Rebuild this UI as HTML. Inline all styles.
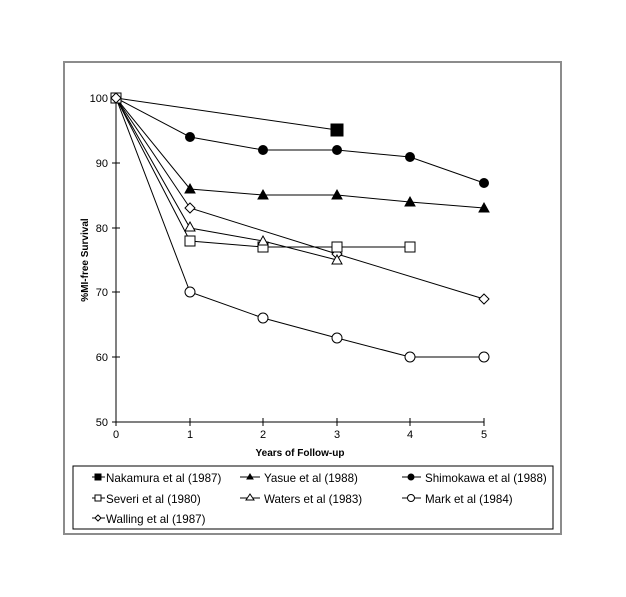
<!DOCTYPE html>
<html><head><style>body{margin:0;background:#fff}svg{display:block}text{font-family:"Liberation Sans",Arial,sans-serif}</style></head><body>
<svg width="626" height="597" viewBox="0 0 626 597">
<rect x="64" y="62" width="497" height="472" fill="#fff" stroke="#8c8c8c" stroke-width="2"/>
<g stroke="#000" stroke-width="1" fill="none">
<line x1="116" y1="98" x2="116" y2="422"/>
<line x1="116" y1="422" x2="484" y2="422"/>
<line x1="112" y1="98" x2="120" y2="98"/><line x1="112" y1="163" x2="120" y2="163"/><line x1="112" y1="228" x2="120" y2="228"/><line x1="112" y1="292" x2="120" y2="292"/><line x1="112" y1="357" x2="120" y2="357"/><line x1="112" y1="422" x2="120" y2="422"/>
<line x1="116" y1="418" x2="116" y2="426"/><line x1="190" y1="418" x2="190" y2="426"/><line x1="263" y1="418" x2="263" y2="426"/><line x1="337" y1="418" x2="337" y2="426"/><line x1="410" y1="418" x2="410" y2="426"/><line x1="484" y1="418" x2="484" y2="426"/>
</g>
<g font-size="11" text-anchor="end">
<text x="108" y="102">100</text><text x="108" y="167">90</text><text x="108" y="232">80</text><text x="108" y="296">70</text><text x="108" y="361">60</text><text x="108" y="426">50</text>
</g>
<g font-size="11" text-anchor="middle">
<text x="116" y="438">0</text><text x="190" y="438">1</text><text x="263" y="438">2</text><text x="337" y="438">3</text><text x="410" y="438">4</text><text x="484" y="438">5</text>
<text x="300" y="456" font-weight="bold" font-size="10">Years of Follow-up</text>
<text transform="translate(88,260) rotate(-90)" font-weight="bold" font-size="10">%MI-free Survival</text>
</g>
<g stroke="#000" stroke-width="1" fill="none">
<polyline points="116,98 337,130"/>
<polyline points="116,98 190,137 263,150 337,150 410,157 484,183"/>
<polyline points="116,98 190,189 263,195 337,195 410,202 484,208"/>
<polyline points="116,98 190,208 337,254 484,299"/>
<polyline points="116,98 190,241 263,247 337,247 410,247"/>
<polyline points="116,98 190,228 263,241 337,260"/>
<polyline points="116,98 190,292 263,318 337,338 410,357 484,357"/>
</g>
<g stroke="#000" stroke-width="1">
<rect x="331" y="124" width="12" height="12" fill="#000"/>
<g fill="#000"><circle cx="190" cy="137" r="4.5"/><circle cx="263" cy="150" r="4.5"/><circle cx="337" cy="150" r="4.5"/><circle cx="410" cy="157" r="4.5"/><circle cx="484" cy="183" r="4.5"/>
<path d="M190,184l5,9h-10z M263,190l5,9h-10z M337,190l5,9h-10z M410,197l5,9h-10z M484,203l5,9h-10z"/></g>
<g fill="#fff">
<path d="M190,203l5,5l-5,5l-5-5z M337,249l5,5l-5,5l-5-5z M484,294l5,5l-5,5l-5-5z"/>
<rect x="185" y="236" width="10" height="10"/><rect x="258" y="242" width="10" height="10"/><rect x="332" y="242" width="10" height="10"/><rect x="405" y="242" width="10" height="10"/>
<path d="M190,222l5,9h-10z M263,236l5,9h-10z M337,255l5,9h-10z"/>
<circle cx="190" cy="292" r="5"/><circle cx="263" cy="318" r="5"/><circle cx="337" cy="338" r="5"/><circle cx="410" cy="357" r="5"/><circle cx="484" cy="357" r="5"/>
<rect x="111" y="93" width="10" height="10"/><path d="M116,93l5,5l-5,5l-5-5z"/>
</g>
</g>
<rect x="73" y="466" width="480" height="63" fill="#fff" stroke="#000"/>
<g stroke="#000" stroke-width="1">
<line x1="92" y1="477" x2="105" y2="477"/><line x1="240" y1="477" x2="260" y2="477"/><line x1="402" y1="477" x2="421" y2="477"/>
<line x1="92" y1="498" x2="105" y2="498"/><line x1="240" y1="498" x2="260" y2="498"/><line x1="402" y1="498" x2="421" y2="498"/>
<line x1="92" y1="518" x2="105" y2="518"/>
<rect x="95" y="474" width="6" height="6" fill="#000"/>
<path d="M250,474l3,5h-6z" fill="#000"/>
<circle cx="411" cy="477" r="3" fill="#000"/>
<rect x="95" y="495" width="6" height="6" fill="#fff"/>
<path d="M250,494l4,6h-8z" fill="#fff"/>
<circle cx="411" cy="498" r="3.5" fill="#fff"/>
<path d="M98,515l3,3l-3,3l-3-3z" fill="#fff"/>
</g>
<g font-size="11.6">
<text x="106" y="482">Nakamura et al (1987)</text><text x="264" y="482">Yasue et al (1988)</text><text x="425" y="482">Shimokawa et al (1988)</text>
<text x="106" y="503">Severi et al (1980)</text><text x="264" y="503">Waters et al (1983)</text><text x="425" y="503">Mark et al (1984)</text>
<text x="106" y="523">Walling et al (1987)</text>
</g>
</svg>
</body></html>
